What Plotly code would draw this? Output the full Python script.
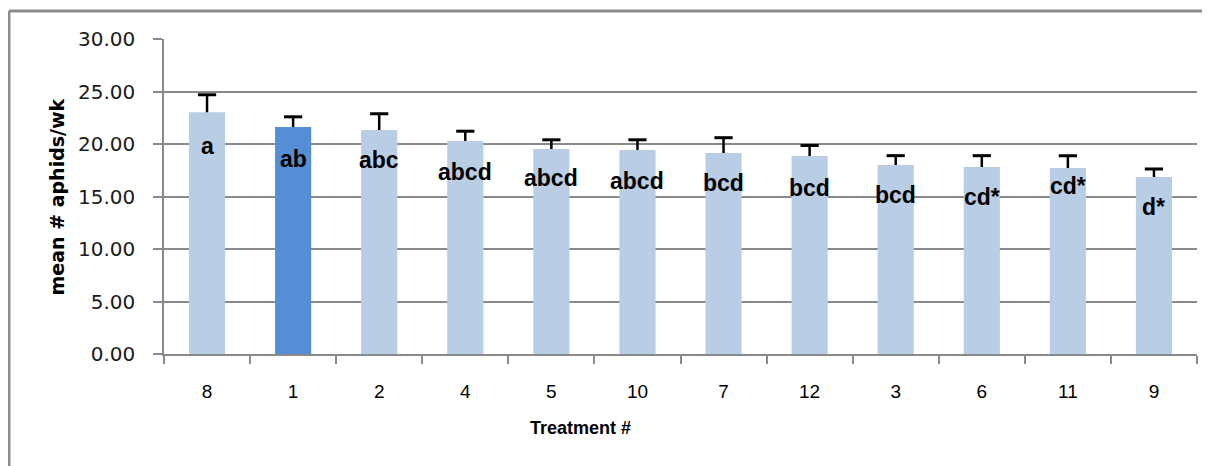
import plotly.graph_objects as go

treatments = ["8", "1", "2", "4", "5", "10", "7", "12", "3", "6", "11", "9"]
means = [23.02, 21.62, 21.33, 20.29, 19.52, 19.43, 19.14, 18.86, 18.00, 17.81, 17.71, 16.86]
errors = [1.67, 0.97, 1.55, 0.93, 0.88, 0.97, 1.46, 1.00, 0.89, 1.08, 1.17, 0.76]
letters = ["a", "ab", "abc", "abcd", "abcd", "abcd", "bcd", "bcd", "bcd", "cd*", "cd*", "d*"]
label_shift = [-34, -32, -30, -31, -29, -31, -30, -32, -30, -30, -18, -30]
highlight = "1"

light = "#B9CDE5"
dark = "#558ED5"
grid = "#8A8A8A"

colors = [dark if t == highlight else light for t in treatments]
idx = list(range(len(treatments)))

fig = go.Figure()
fig.add_trace(go.Bar(
    x=idx, y=means, width=0.42,
    marker=dict(color=colors, line=dict(width=0)),
    hoverinfo="y",
))

# upward-only error bars: stem from bar top to mean+error, cap at top
ex, ey = [], []
for i, m, e in zip(idx, means, errors):
    ex += [i, i, None]
    ey += [m, m + e, None]
fig.add_trace(go.Scatter(
    x=ex, y=ey, mode="lines", line=dict(color="black", width=2.5),
    hoverinfo="skip",
))
fig.add_trace(go.Scatter(
    x=idx, y=[m + e for m, e in zip(means, errors)], mode="markers",
    marker=dict(symbol="line-ew-open", size=13, color="black",
                line=dict(color="black", width=3)),
    hoverinfo="skip",
))

annotations = []
for i, m, lab, s in zip(idx, means, letters, label_shift):
    annotations.append(dict(
        x=i, y=m, xref="x", yref="y", text=lab, showarrow=False,
        yshift=s, yanchor="middle", xanchor="center",
        font=dict(family="Liberation Sans", size=23, color="black", weight="bold"),
    ))

annotations.append(dict(
    x=-0.1036, y=0.5, xref="paper", yref="paper", text="<b>mean # aphids/wk</b>",
    textangle=-90, showarrow=False, xanchor="center", yanchor="middle",
    font=dict(family="DejaVu Sans", size=19, color="black"),
))
annotations.append(dict(
    x=(580 - 164) / 1033, y=(354 - 428) / 315, xref="paper", yref="paper",
    text="<b>Treatment #</b>", showarrow=False, xanchor="center", yanchor="middle",
    font=dict(family="Liberation Sans", size=18, color="black"),
))

fig.update_layout(
    width=1202, height=458,
    margin=dict(l=156, r=13, t=31, b=112),
    paper_bgcolor="white", plot_bgcolor="white",
    showlegend=False,
    annotations=annotations,
    shapes=[
        dict(type="line", xref="paper", yref="paper",
             x0=(9 - 164) / 1033, x1=(9 - 164) / 1033,
             y0=(354 - 11) / 315, y1=(354 - 470) / 315,
             line=dict(color="#8C8C8C", width=3)),
        dict(type="line", xref="paper", yref="paper",
             x0=(9 - 164) / 1033, x1=(1215 - 164) / 1033,
             y0=(354 - 11) / 315, y1=(354 - 11) / 315,
             line=dict(color="#8C8C8C", width=3)),
    ],
    xaxis=dict(
        range=[-0.5, len(treatments) - 0.5],
        tickmode="array", tickvals=idx, ticktext=treatments,
        showgrid=False, showline=True, linecolor=grid, linewidth=1.5,
        ticks="", zeroline=False,
        tickfont=dict(family="Liberation Sans", size=19, color="black"),
        ticklabelstandoff=19,
        minor=dict(tickmode="array", tickvals=[i - 0.5 for i in idx] + [len(idx) - 0.5],
                   ticks="outside", ticklen=8, tickcolor=grid, tickwidth=1.5, showgrid=False),
    ),
    yaxis=dict(
        range=[0, 30], dtick=5, tickformat=".2f",
        showgrid=True, gridcolor=grid, gridwidth=1.5,
        showline=True, linecolor=grid, linewidth=1.5,
        ticks="outside", ticklen=9, tickcolor=grid, tickwidth=1.5,
        tickfont=dict(family="DejaVu Sans", size=20, color="#1a1a1a"),
        ticklabelstandoff=14, zeroline=False,
    ),
)

fig.write_html("out.html")
